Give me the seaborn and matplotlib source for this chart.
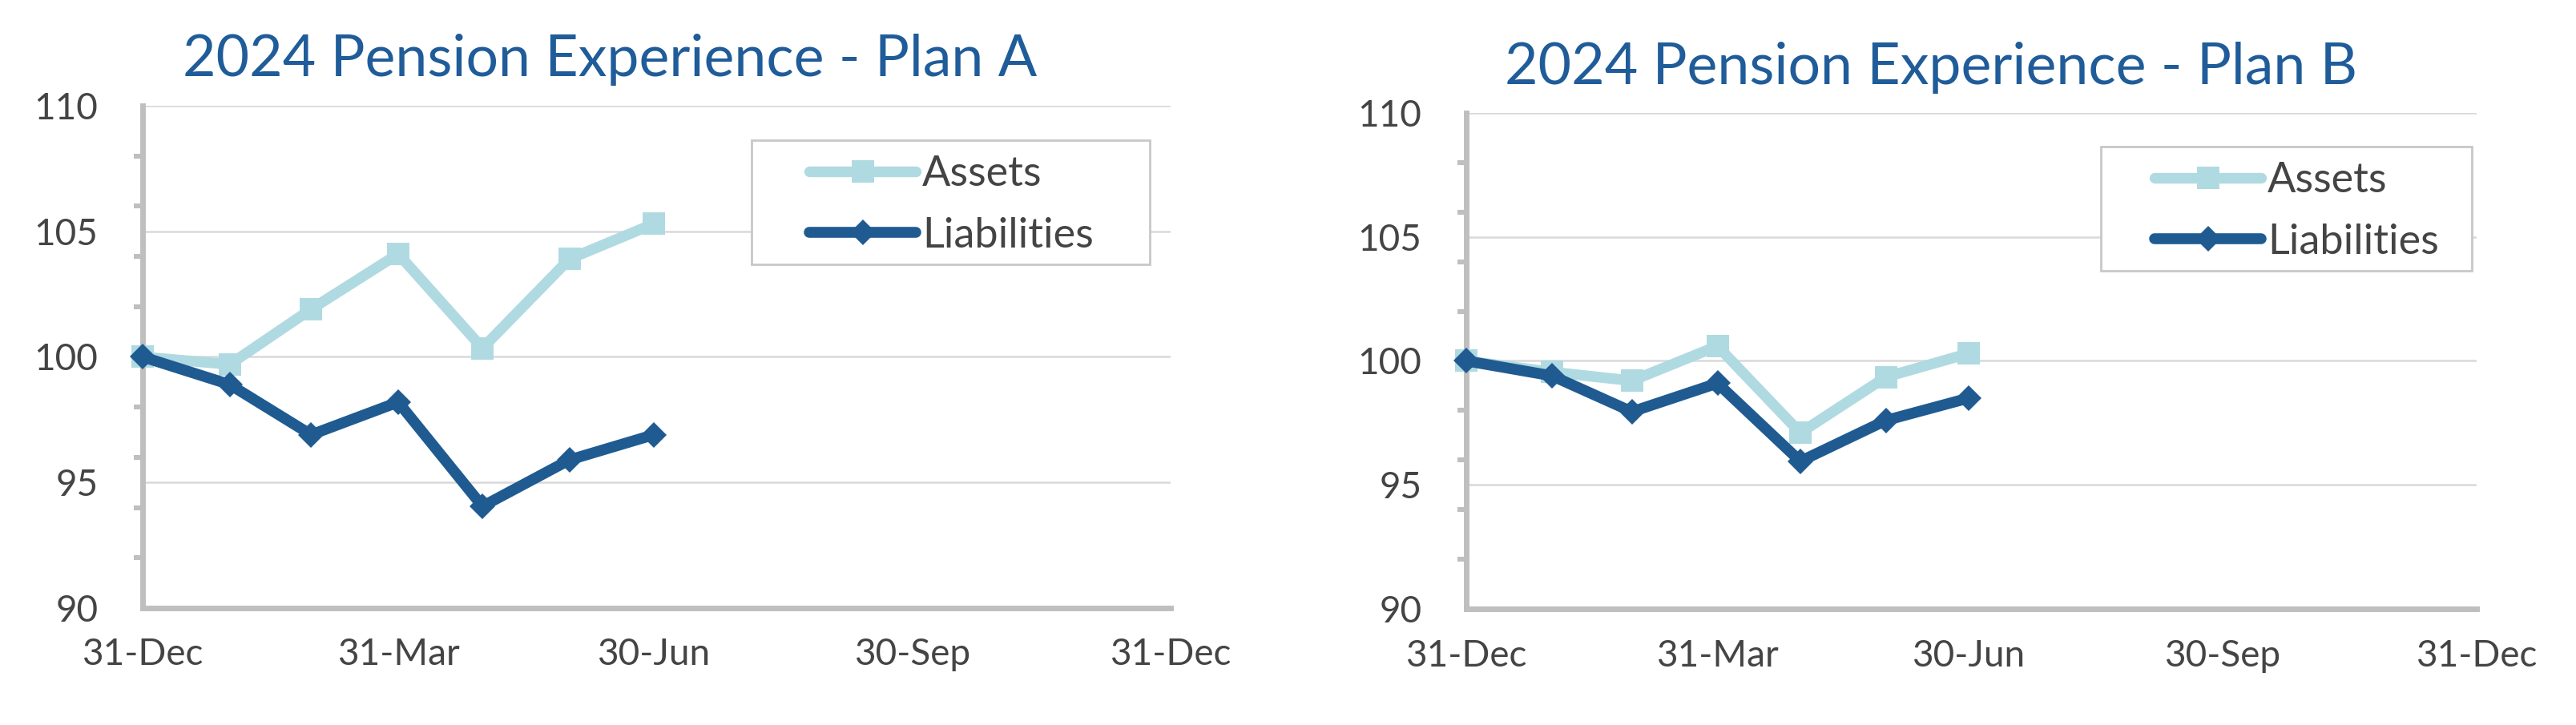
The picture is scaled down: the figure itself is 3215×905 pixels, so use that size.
import matplotlib.pyplot as plt
import matplotlib.ticker as mticker
from matplotlib.patches import Rectangle
import pandas as pd
import seaborn as sns

# month-end index values (31-Dec-2023 = 100)
dates = ["2023-12-31", "2024-01-31", "2024-02-29", "2024-03-31",
         "2024-04-30", "2024-05-31", "2024-06-30"]
plan_a_assets = [100.0, 99.7, 101.9, 104.1, 100.35, 103.9, 105.3]
plan_a_liabilities = [100.0, 98.9, 96.9, 98.2, 94.05, 95.9, 96.9]
plan_b_assets = [100.0, 99.55, 99.2, 100.6, 97.1, 99.35, 100.3]
plan_b_liabilities = [100.0, 99.4, 97.95, 99.1, 95.95, 97.6, 98.5]

tick_dates = ["2023-12-31", "2024-03-31", "2024-06-30", "2024-09-30", "2024-12-31"]
tick_labels = ["31-Dec", "31-Mar", "30-Jun", "30-Sep", "31-Dec"]
titles = ["2024 Pension Experience - Plan A", "2024 Pension Experience - Plan B"]

ASSET_COL = "#B0DAE1"
LIAB_COL = "#1F5B91"
TITLE_COL = "#1F5C99"
AXIS_COL = "#BFBFBF"
TEXT_COL = "#444444"
W, H = 3215, 905

sns.set_style("white")
plt.rcParams["font.family"] = ["Lato", "DejaVu Sans"]


def px(x, y):
    # pixel position in the output image -> figure fraction
    return x / W, 1 - y / H


def draw_panel(fig, rect, assets, liabilities, title, title_px, box_px, leg_px):
    ax = fig.add_axes(rect)
    x = pd.to_datetime(dates)
    sns.lineplot(x=x, y=assets, ax=ax, color=ASSET_COL, linewidth=4.8,
                 marker="s", markersize=10, markeredgewidth=0,
                 clip_on=False, label="Assets", zorder=3)
    sns.lineplot(x=x, y=liabilities, ax=ax, color=LIAB_COL, linewidth=4.9,
                 marker="D", markersize=8, markeredgewidth=0,
                 clip_on=False, label="Liabilities", zorder=4)

    ax.set_xlim(pd.Timestamp(tick_dates[0]), pd.Timestamp(tick_dates[-1]))
    ax.set_ylim(90, 110)
    ax.set_xticks(pd.to_datetime(tick_dates))
    ax.set_xticklabels(tick_labels)
    ax.yaxis.set_major_locator(mticker.MultipleLocator(5))
    ax.yaxis.set_minor_locator(mticker.MultipleLocator(2))
    ax.set_xlabel("")
    ax.set_ylabel("")

    ax.grid(axis="y", which="major", color="#D9D9D9", linewidth=0.9)
    ax.set_axisbelow(True)
    for side in ["top", "right"]:
        ax.spines[side].set_visible(False)
    for side in ["left", "bottom"]:
        ax.spines[side].set_color(AXIS_COL)
        ax.spines[side].set_linewidth(2.5)

    ax.tick_params(axis="y", which="major", length=5, width=2.2, color=AXIS_COL,
                   pad=15, labelsize=16.5, labelcolor=TEXT_COL)
    ax.tick_params(axis="y", which="minor", left=True, length=4, width=2.2,
                   color=AXIS_COL)
    ax.tick_params(axis="x", which="major", length=5, width=2.2, color=AXIS_COL,
                   pad=8.5, labelsize=16.5, labelcolor=TEXT_COL)

    tx, ty = px(*title_px)
    fig.text(tx, ty, title, ha="left", va="baseline", fontsize=25.8,
             color=TITLE_COL)

    # legend frame drawn separately so the padding matches the original
    bx0, by1 = px(box_px[0], box_px[1])
    bx1, by0 = px(box_px[2], box_px[3])
    ax.add_patch(Rectangle((bx0, by0), bx1 - bx0, by1 - by0,
                           transform=fig.transFigure, clip_on=False,
                           facecolor="white", edgecolor="#C8C8C8",
                           linewidth=1.0, zorder=5))
    leg = ax.legend(loc="upper left", bbox_to_anchor=px(*leg_px),
                    bbox_transform=fig.transFigure, borderaxespad=0,
                    borderpad=0, frameon=False, fontsize=18.8,
                    handlelength=2.55, handletextpad=0.15, labelspacing=0.57,
                    labelcolor=TEXT_COL)
    leg.set_zorder(6)
    return ax


fig = plt.figure(figsize=(W / 200, H / 200), dpi=200)
draw_panel(fig, [178 / W, 1 - 759 / H, (1461 - 178) / W, (759 - 132) / H],
           plan_a_assets, plan_a_liabilities, titles[0], (228, 95),
           (938, 175, 1435, 330), (1010, 194))
draw_panel(fig, [1830 / W, 1 - 760 / H, (3091 - 1830) / W, (760 - 141) / H],
           plan_b_assets, plan_b_liabilities, titles[1], (1878, 105),
           (2622, 183, 3085, 338), (2689, 202))

fig.savefig("out.png", dpi=200, facecolor="white")
